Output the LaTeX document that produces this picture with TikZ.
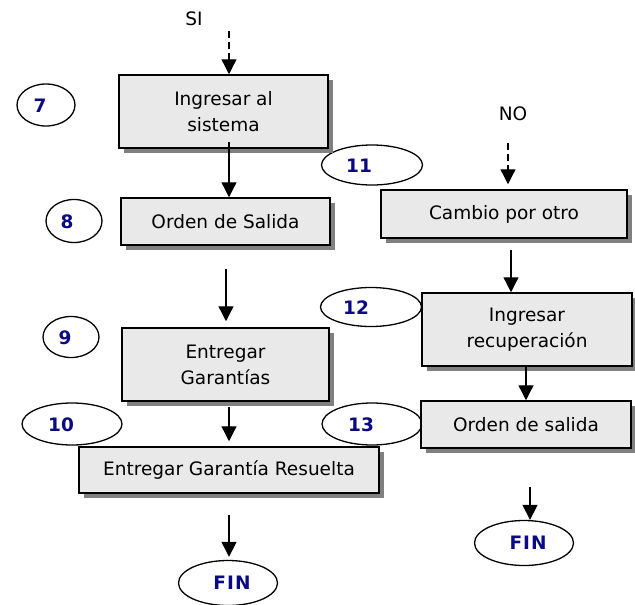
\documentclass[tikz,border=0pt]{standalone}
\usepackage{fontspec}
\setmainfont{DejaVu Sans}
\usetikzlibrary{shapes.geometric,arrows.meta,shadows}
\definecolor{boxfill}{RGB}{233,233,233}
\definecolor{shadowgray}{RGB}{128,128,128}
\definecolor{numblue}{RGB}{10,10,130}
\tikzset{
  procbox/.style={draw=black, line width=1.5pt, fill=boxfill, rectangle, align=center,
    inner sep=0pt, font=\fontsize{18.5}{26}\selectfont,
    drop shadow={shadow xshift=5pt, shadow yshift=-5pt, fill=shadowgray, opacity=1}},
  numell/.style={draw=black, line width=1.3pt, ellipse, inner sep=0pt, fill=white},
  numtxt/.style={text=numblue, font=\fontsize{18.5}{22}\selectfont\bfseries, inner sep=0pt},
  plain/.style={font=\fontsize{18.5}{22}\selectfont, inner sep=0pt},
  arr/.style={line width=1.3pt, -{Triangle[width=15pt,length=15pt]}},
  darr/.style={arr, dash pattern=on 7pt off 4pt}
}
\begin{document}
\begin{tikzpicture}[x=1pt,y=-1pt]
\useasboundingbox (0,0) rectangle (635,605);
% ellipses
\node[numell, minimum width=58pt, minimum height=42pt] (e7) at (46,105) {};
\node[numell, minimum width=56pt, minimum height=43pt] (e8) at (74,221) {};
\node[numell, minimum width=56pt, minimum height=41pt] (e9) at (71,337) {};
\node[numell, minimum width=100pt, minimum height=42pt] (e10) at (72,424) {};
\node[numell, minimum width=101pt, minimum height=40pt] (e11) at (372,165) {};
\node[numell, minimum width=101pt, minimum height=39pt] (e12) at (371,307) {};
\node[numell, minimum width=100pt, minimum height=42pt] (e13) at (372,424) {};
\node[numell, minimum width=99pt, minimum height=45pt] (fin1) at (228,583) {};
\node[numell, minimum width=99pt, minimum height=45pt] (fin2) at (524,543) {};
\node[numtxt] (t7) at (40,106) {7};
\node[numtxt] (t8) at (67,222) {8};
\node[numtxt] (t9) at (65,338) {9};
\node[numtxt] (t10) at (61,425) {10};
\node[numtxt] (t11) at (359,166) {11};
\node[numtxt] (t12) at (356,308) {12};
\node[numtxt] (t13) at (361,425) {13};
\node[numtxt] (tf1) at (232,583) {F\kern1pt I\kern1pt N};
\node[numtxt] (tf2) at (528,543) {F\kern1pt I\kern1pt N};
% boxes
\node[procbox, minimum width=209pt, minimum height=73pt] (b1) at (223.5,111.5) {Ingresar al\\sistema};
\node[procbox, minimum width=209pt, minimum height=47pt] (b2) at (225.5,221.5) {Orden de Salida};
\node[procbox, minimum width=246pt, minimum height=48pt] (b3) at (504,214) {Cambio por otro};
\node[procbox, minimum width=210pt, minimum height=73pt] (b4) at (527,329.5) {Ingresar\\recuperación};
\node[procbox, minimum width=207pt, minimum height=73pt] (b5) at (225.5,364.5) {Entregar\\Garantías};
\node[procbox, minimum width=300pt, minimum height=46pt] (b6) at (229,470) {Entregar Garantía Resuelta};
\node[procbox, minimum width=210pt, minimum height=47pt] (b7) at (526,424.5) {Orden de salida};
% labels
\node[plain] (si) at (194,19) {SI};
\node[plain] (no) at (513,114) {NO};
% connectors
\coordinate (s1) at (229,31);
\coordinate (s2) at (229,142);
\coordinate (s3) at (226,269);
\coordinate (s4) at (229,407);
\coordinate (s5) at (229,515);
\coordinate (n1) at (508,143);
\coordinate (n2) at (511,250);
\coordinate (n3) at (526,366);
\coordinate (n4) at (530,487);
\draw[darr] (s1) -- (s1 |- b1.north);
\draw[arr] (s2) -- (s2 |- b2.north);
\draw[arr] (s3) -- ([yshift=6pt]s3 |- b5.north);
\draw[arr] (s4) -- ([yshift=5pt]s4 |- b6.north);
\draw[arr] (s5) -- ([yshift=3pt]s5 |- fin1.north);
\draw[darr] (n1) -- ([yshift=5pt]n1 |- b3.north);
\draw[arr] (n2) -- (n2 |- b4.north);
\draw[arr] (n3) -- (n3 |- b7.north);
\draw[arr] (n4) -- (n4 |- fin2.north);
\end{tikzpicture}
\end{document}
